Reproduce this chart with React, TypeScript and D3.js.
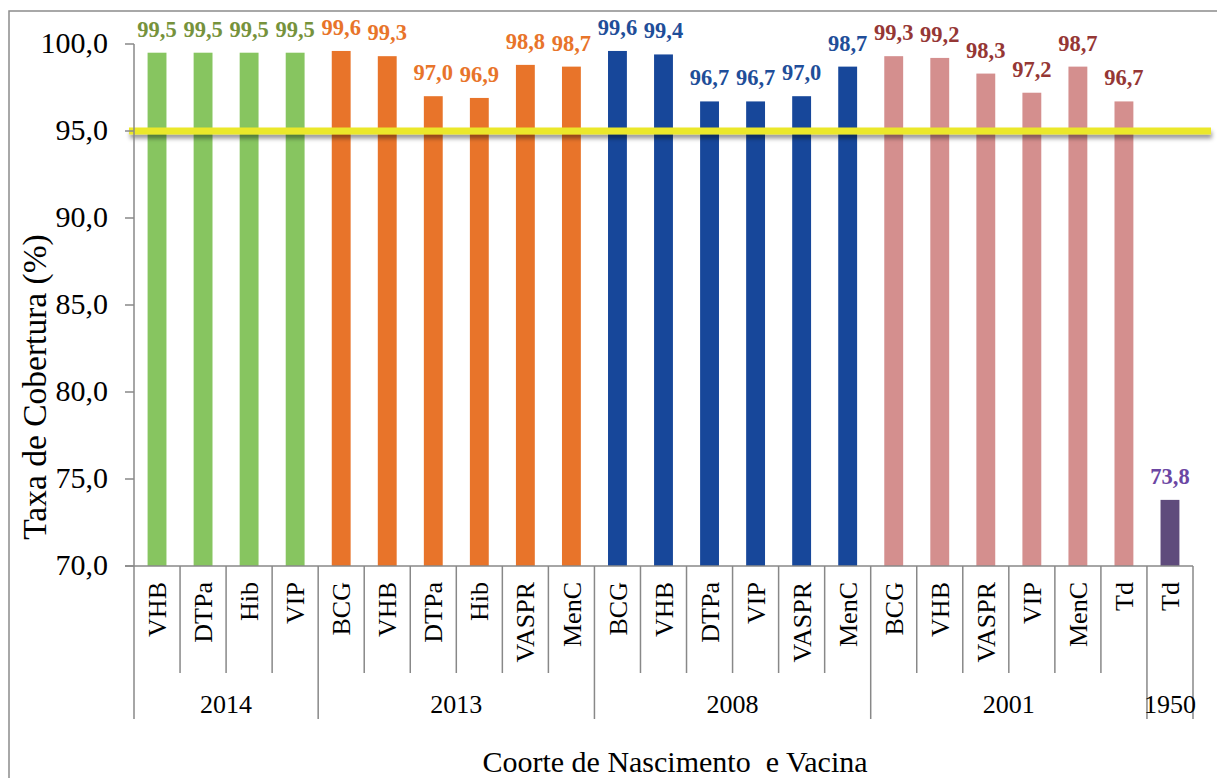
import React from 'react';
import * as d3 from 'd3';

// cohorts and the vaccines under each one
const cohorts = ['2014', '2013', '2008', '2001', '1950'];
const vaccines = [
  ['VHB', 'DTPa', 'Hib', 'VIP'],
  ['BCG', 'VHB', 'DTPa', 'Hib', 'VASPR', 'MenC'],
  ['BCG', 'VHB', 'DTPa', 'VIP', 'VASPR', 'MenC'],
  ['BCG', 'VHB', 'VASPR', 'VIP', 'MenC', 'Td'],
  ['Td'],
];
const coverage = [
  [99.5, 99.5, 99.5, 99.5],
  [99.6, 99.3, 97.0, 96.9, 98.8, 98.7],
  [99.6, 99.4, 96.7, 96.7, 97.0, 98.7],
  [99.3, 99.2, 98.3, 97.2, 98.7, 96.7],
  [73.8],
];
const yTicks = [70, 75, 80, 85, 90, 95, 100];
const target = 95;

const barColors = ['#87C560', '#E8742A', '#17479A', '#D48F8E', '#5F4B7C'];
const labelColors = ['#76923C', '#E8742A', '#1F4E99', '#953735', '#6B46A3'];

const FONT = 'Liberation Serif, serif';
const AXIS = '#888888';

interface Item {
  key: string;
  vaccine: string;
  value: number;
  group: number;
}

const items: Item[] = [];
cohorts.forEach((c, g) => {
  vaccines[g].forEach((v, i) => {
    items.push({ key: `${c}-${v}-${i}`, vaccine: v, value: coverage[g][i], group: g });
  });
});

const App: React.FC = () => {
  const width = 1217;
  const height = 778;
  const left = 134;
  const right = 1193;
  const top = 44;
  const bottom = 566;

  const x = d3.scaleBand<string>()
    .domain(items.map(d => d.key))
    .range([left, right])
    .padding(0);
  const step = x.step();
  const barW = step * 0.41;

  const y = d3.scaleLinear().domain([70, 100]).range([bottom, top]);

  // where cohort groups start/end (in item index)
  const groupEdges: number[] = [0];
  vaccines.forEach(v => groupEdges.push(groupEdges[groupEdges.length - 1] + v.length));

  const fmt = (v: number) => d3.format('.1f')(v).replace('.', ',');

  return (
    <svg
      width={width}
      height={height}
      fontFamily={FONT}
      style={{ position: 'absolute', left: 0, top: 0, background: '#fff', fontFamily: FONT }}
    >
      <defs>
        <filter id="shadow" filterUnits="userSpaceOnUse" x="100" y="100" width="1150" height="60">
          <feDropShadow dx="1" dy="4" stdDeviation="2.2" floodColor="#000" floodOpacity="0.4" />
        </filter>
      </defs>

      {/* outer frame */}
      <rect x={9} y={11} width={1400} height={1000} fill="none" stroke="#8c8c8c" strokeWidth={1.5} />

      {/* bars */}
      {items.map(d => (
        <rect
          key={d.key}
          x={x(d.key)! + (step - barW) / 2}
          y={y(d.value)}
          width={barW}
          height={bottom - y(d.value)}
          fill={barColors[d.group]}
        />
      ))}

      {/* 95% target line */}
      <rect
        x={129}
        width={1211 - 129}
        y={y(target) - 3.5}
        height={7}
        fill="#EBE82A"
        filter="url(#shadow)"
      />

      {/* value labels */}
      {items.map(d => (
        <text
          key={'l' + d.key}
          x={x(d.key)! + step / 2}
          y={y(d.value) - 16}
          textAnchor="middle"
          fontWeight="bold"
          fontSize={22.5}
          fill={labelColors[d.group]}
        >
          {fmt(d.value)}
        </text>
      ))}

      {/* y axis */}
      <line x1={left} x2={left} y1={top} y2={bottom} stroke={AXIS} strokeWidth={1.5} />
      {yTicks.map(t => (
        <g key={t}>
          <line x1={left - 9} x2={left} y1={y(t)} y2={y(t)} stroke={AXIS} strokeWidth={1.5} />
          <text
            x={108}
            y={y(t)}
            dy="0.3em"
            textAnchor="end"
            fontSize={30}
            fill="#000"
          >
            {fmt(t)}
          </text>
        </g>
      ))}
      <text
        transform={`translate(46,387) rotate(-90)`}
        textAnchor="middle"
        fontSize={33.5}
        fill="#000"
      >
        Taxa de Cobertura (%)
      </text>

      {/* x axis */}
      <line x1={left - 9} x2={right} y1={bottom} y2={bottom} stroke={AXIS} strokeWidth={1.5} />
      {d3.range(items.length + 1).map(i => {
        const xx = left + i * step;
        const isEdge = groupEdges.includes(i);
        return (
          <line
            key={'s' + i}
            x1={xx}
            x2={xx}
            y1={bottom}
            y2={isEdge ? 719 : 673}
            stroke={AXIS}
            strokeWidth={1.5}
          />
        );
      })}
      {items.map(d => (
        <text
          key={'c' + d.key}
          transform={`translate(${x(d.key)! + step / 2},582) rotate(-90)`}
          dy="0.35em"
          textAnchor="end"
          fontSize={26}
          fill="#000"
        >
          {d.vaccine}
        </text>
      ))}
      {cohorts.map((c, g) => (
        <text
          key={'g' + c}
          x={left + ((groupEdges[g] + groupEdges[g + 1]) / 2) * step}
          y={713}
          textAnchor="middle"
          fontSize={26}
          fill="#000"
        >
          {c}
        </text>
      ))}
      <text
        x={675}
        y={772}
        textAnchor="middle"
        fontSize={30}
        fill="#000"
        style={{ whiteSpace: 'pre' }}
      >
        {'Coorte de Nascimento  e Vacina'}
      </text>
    </svg>
  );
};

export default App;
